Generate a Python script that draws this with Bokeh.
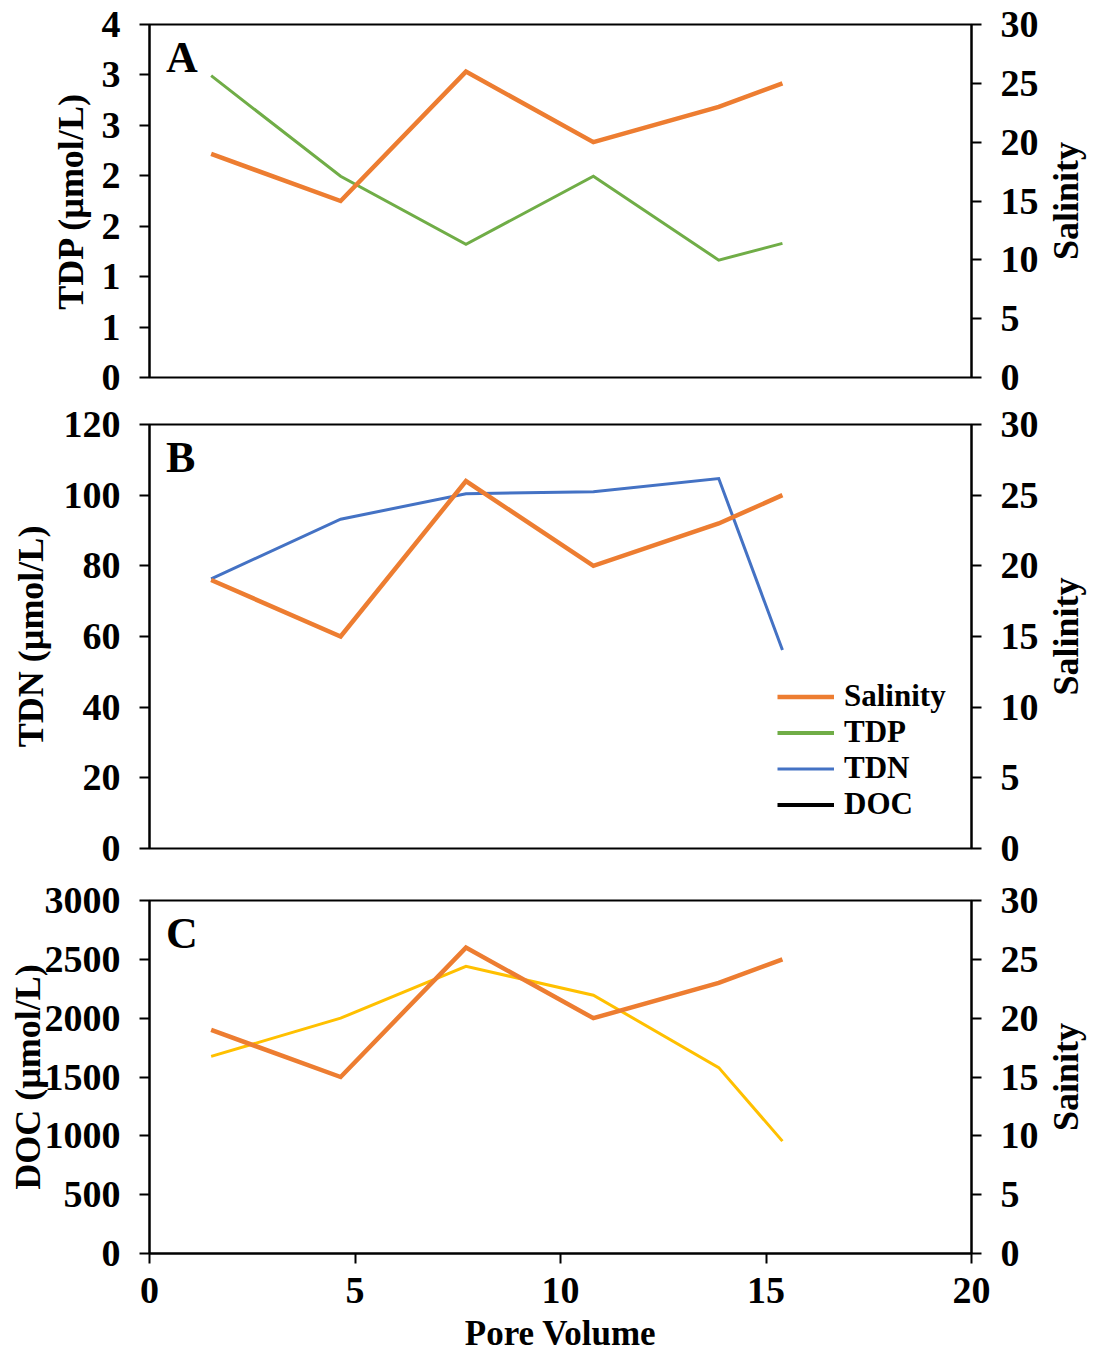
import math
import numpy as np
from bokeh.plotting import figure
from bokeh.models import (Range1d, LinearAxis, FixedTicker, PrintfTickFormatter,
                          Legend, LegendItem, Label)
from bokeh.core.properties import value
from bokeh.layouts import column, row
from bokeh.embed import file_html
from bokeh.resources import INLINE

# ---------------- data ----------------
pore_volume = [1.5, 4.65, 7.7, 10.8, 13.85, 15.4]
salinity = [19, 15, 26, 20, 23, 25]
tdp = [3.42, 2.28, 1.51, 2.28, 1.33, 1.52]
tdn = [76.3, 93.2, 100.4, 101.0, 104.7, 56.2]
doc = [1675, 2000, 2440, 2195, 1580, 955]

x_ticks = [0, 5, 10, 15, 20]
sal_ticks = [0, 5, 10, 15, 20, 25, 30]
tdp_tick_count = 8
tdn_ticks = [0, 20, 40, 60, 80, 100, 120]
doc_ticks = [0, 500, 1000, 1500, 2000, 2500, 3000]
legend_labels = ["Salinity", "TDP", "TDN", "DOC"]

ORANGE = "#ED7D31"
GREEN = "#70AD47"
BLUE = "#4472C4"
YELLOW = "#FFC000"
FONT = "Liberation Serif"
TICK_SIZE = "38px"
LABEL_SIZE = "36px"

MAIN_W = 1043
SIDE_W = 1093 - MAIN_W


def style_axis(ax, standoff_label=8):
    ax.axis_line_width = 2
    ax.axis_line_color = "black"
    ax.major_tick_line_width = 2
    ax.major_tick_line_color = "black"
    ax.major_tick_out = 10
    ax.major_tick_in = 0
    ax.minor_tick_line_color = None
    ax.major_label_text_font = FONT
    ax.major_label_text_font_style = "bold"
    ax.major_label_text_font_size = TICK_SIZE
    ax.major_label_text_color = "black"
    ax.major_label_standoff = 19
    ax.axis_label_text_font = FONT
    ax.axis_label_text_font_style = "bold"
    ax.axis_label_text_font_size = LABEL_SIZE
    ax.axis_label_text_color = "black"
    ax.axis_label_standoff = standoff_label


def text_strip(width, height, top, bottom, text, angle):
    """Narrow figure that only carries an axis title."""
    s = figure(width=width, height=height, x_range=Range1d(0, 1),
               y_range=Range1d(0, 1), output_backend="svg",
               toolbar_location=None, x_axis_location=None,
               y_axis_location=None, min_border_left=0, min_border_right=0,
               min_border_top=top, min_border_bottom=bottom)
    s.xgrid.visible = False
    s.ygrid.visible = False
    s.outline_line_color = None
    s.background_fill_color = "white"
    s.border_fill_color = "white"
    s.text(x=[0.44], y=[0.5], text=[text], angle=angle,
           text_align="center", text_baseline="middle",
           text_font=value(FONT), text_font_style="bold",
           text_font_size=LABEL_SIZE, text_color="black")
    return s


def make_panel(height, top, bottom, ymax, yticks, ylabel, rlabel, letter,
               show_x, label_standoff, tick_formatter=None):
    p = figure(width=MAIN_W, height=height,
               x_range=Range1d(0, 20), y_range=Range1d(0, ymax),
               output_backend="svg", toolbar_location=None,
               x_axis_location="below" if show_x else None,
               min_border_left=149, min_border_right=MAIN_W - 971,
               min_border_top=top, min_border_bottom=bottom)
    p.extra_y_ranges = {"sal": Range1d(0, 30)}
    p.xgrid.visible = False
    p.ygrid.visible = False
    p.outline_line_color = "black"
    p.outline_line_width = 2
    p.outline_line_alpha = 1
    p.background_fill_color = "white"
    p.border_fill_color = "white"

    ya = p.yaxis[0]
    ya.ticker = FixedTicker(ticks=list(yticks))
    if tick_formatter is not None:
        ya.formatter = tick_formatter
    ya.axis_label = ylabel
    style_axis(ya, label_standoff)

    ra = LinearAxis(y_range_name="sal", ticker=FixedTicker(ticks=sal_ticks))
    style_axis(ra, 0)
    p.add_layout(ra, "right")

    if show_x:
        xa = p.xaxis[0]
        xa.ticker = FixedTicker(ticks=x_ticks)
        style_axis(xa, 0)
        xa.major_label_standoff = 14

    p.add_layout(Label(x=0.4, y=ymax, y_offset=-8, text=letter,
                       text_font=FONT, text_font_style="bold",
                       text_font_size="44px", text_baseline="top",
                       text_color="black"))
    side = text_strip(SIDE_W, height, top, bottom, rlabel, math.pi / 2)
    return p, side


# ---------------- panel A ----------------
pA, sA = make_panel(400, 24, 23, 4, np.linspace(0, 4, tdp_tick_count),
                    "TDP (µmol/L)", "Salinity", "A", False, 8,
                    PrintfTickFormatter(format="%.0f"))
pA.line(pore_volume, tdp, line_color=GREEN, line_width=3, line_join="miter")
pA.line(pore_volume, salinity, y_range_name="sal", line_color=ORANGE,
        line_width=4.5, line_join="miter")

# ---------------- panel B ----------------
pB, sB = make_panel(476, 24, 28, 120, tdn_ticks, "TDN (µmol/L)", "Salinity",
                    "B", False, 10)
r_tdn = pB.line(pore_volume, tdn, line_color=BLUE, line_width=3,
                line_join="miter")
r_sal = pB.line(pore_volume, salinity, y_range_name="sal", line_color=ORANGE,
                line_width=4.5, line_join="miter")
hidden = [float("nan")] * len(pore_volume)
r_tdp_key = pB.line(pore_volume, hidden, line_color=GREEN, line_width=4)
r_doc_key = pB.line(pore_volume, hidden, line_color="black", line_width=4)
legend = Legend(items=[LegendItem(label=legend_labels[0], renderers=[r_sal]),
                       LegendItem(label=legend_labels[1], renderers=[r_tdp_key]),
                       LegendItem(label=legend_labels[2], renderers=[r_tdn]),
                       LegendItem(label=legend_labels[3], renderers=[r_doc_key])],
                location=(628, 26), padding=0, margin=0, spacing=0,
                glyph_width=57, glyph_height=33, label_height=33,
                label_standoff=10,
                label_text_font=FONT, label_text_font_style="bold",
                label_text_font_size="31px", label_text_color="black",
                border_line_alpha=0, background_fill_alpha=0)
pB.add_layout(legend)

# ---------------- panel C ----------------
C_BOTTOM = 56
C_H = 24 + 353 + C_BOTTOM
pC, sC = make_panel(C_H, 24, C_BOTTOM, 3000, doc_ticks, "DOC (µmol/L)",
                    "Sainity", "C", True, -6)
pC.line(pore_volume, doc, line_color=YELLOW, line_width=3, line_join="miter")
pC.line(pore_volume, salinity, y_range_name="sal", line_color=ORANGE,
        line_width=4.5, line_join="miter")

# x-axis title strip under panel C
XT_H = 1355 - 876 - C_H
xt = figure(width=1093, height=XT_H, x_range=Range1d(0, 1093),
            y_range=Range1d(0, 1), output_backend="svg",
            toolbar_location=None, x_axis_location=None, y_axis_location=None,
            min_border_left=0, min_border_right=0, min_border_top=0,
            min_border_bottom=0)
xt.xgrid.visible = False
xt.ygrid.visible = False
xt.outline_line_color = None
xt.background_fill_color = "white"
xt.border_fill_color = "white"
xt.text(x=[560], y=[0.48], text=["Pore Volume"], text_align="center",
        text_baseline="middle", text_font=value(FONT),
        text_font_style="bold", text_font_size="35px", text_color="black")

layout = column(row(pA, sA, spacing=0), row(pB, sB, spacing=0),
                row(pC, sC, spacing=0), xt, spacing=0)
open("out.html", "w").write(file_html(layout, INLINE))
